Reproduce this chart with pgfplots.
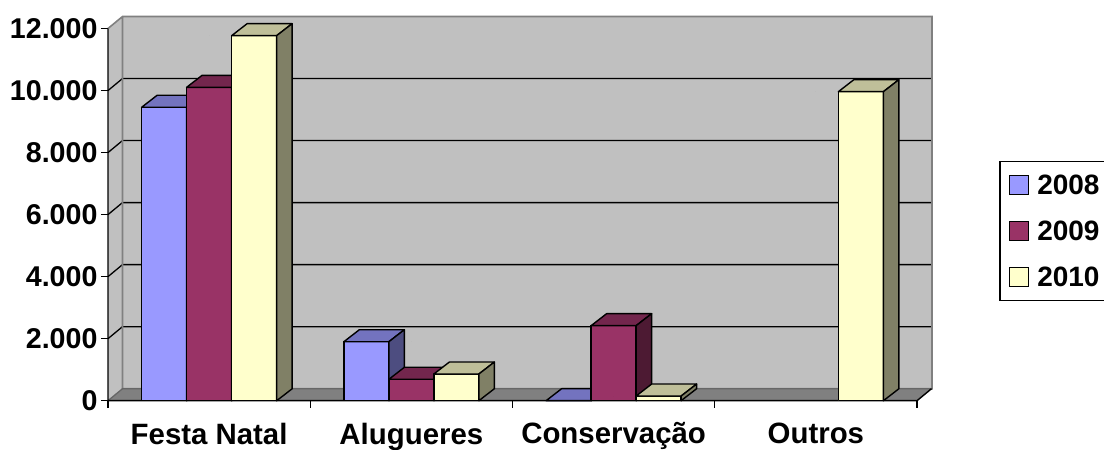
\documentclass[border=0pt]{standalone}
\usepackage{fontspec}
\setmainfont{Liberation Sans}
\usepackage{pgfplots}
\usepackage{pgfplotstable}
\pgfplotsset{compat=1.18}

\definecolor{c08}{HTML}{9999FF}
\definecolor{c08top}{HTML}{7373BF}
\definecolor{c08side}{HTML}{4D4D80}
\definecolor{c09}{HTML}{993366}
\definecolor{c09top}{HTML}{73264D}
\definecolor{c09side}{HTML}{4D1A33}
\definecolor{c10}{HTML}{FFFFCC}
\definecolor{c10top}{HTML}{BFBF99}
\definecolor{c10side}{HTML}{808066}
\definecolor{wall}{HTML}{C0C0C0}
\definecolor{floorgrey}{HTML}{808080}

\pgfplotstableread{
x   a     b     c
0.5 9460  10104 11769
1.5 1902  690   860
2.5 0     2419  150
3.5 nan   nan   9963
}\costs

% whole bar (front, top, side) hung on the data point of the series, marks
% come after the ybar paths so the front has to be repeated here to keep the order
% #1 shift, #2 front, #3 top colour, #4 side colour, #5 column
\newcommand{\barfaces}[5]{%
  \addplot[forget plot, scatter, only marks, mark=*, mark size=0pt, draw=none,
    visualization depends on={y \as \rawy},
    scatter/@pre marker code/.code={%
      \pgfmathsetlengthmacro{\hh}{\rawy*0.031015}%
      \draw[black, line width=1.4pt, line join=round, fill=#2]
        (#1-22.5pt,0) rectangle ++(45pt,-\hh);
      \draw[black, line width=1.4pt, line join=round, fill=#3]
        (#1-22.5pt,0) -- ++(15.5pt,12pt) -- ++(45pt,0) -- ++(-15.5pt,-12pt) -- cycle;
      \draw[black, line width=1.4pt, line join=round, fill=#4]
        (#1+22.5pt,0) -- ++(15.5pt,12pt) -- ++(0,-\hh) -- ++(-15.5pt,-12pt) -- cycle;
      \begin{scope}
    },
    scatter/@post marker code/.code={\end{scope}}
  ] table[x=x, y=#5] {\costs};
}

\begin{document}
\begin{tikzpicture}[x=1pt,y=1pt]
\useasboundingbox (0,0) rectangle (1104,450);
\begin{axis}[
    at={(108pt,49.3pt)}, anchor=south west,
    scale only axis, width=824pt, height=384pt,
    xmin=0, xmax=4.0742, ymin=0, ymax=12381,
    clip=false,
    axis lines=left,
    axis line style={-, draw=none},
    tick align=outside,
    major tick length=7pt,
    tick style={black, line width=1.3pt},
    xtick={0,1,2,3,4},
    xticklabels={Festa Natal,Alugueres,Conservação,Outros},
    x tick label as interval,
    ytick={0,2000,4000,6000,8000,10000,12000},
    scaled y ticks=false,
    /pgf/number format/assume math mode=true,
    /pgf/number format/1000 sep={.},
    x tick label style={font=\fontsize{29.4}{29.4}\selectfont\bfseries, yshift=-11.5pt},
    y tick label style={font=\fontsize{28.6}{28.6}\selectfont\bfseries},
    legend style={at={(1.0817,0.6242)}, anchor=north west, draw=black, line width=1.3pt,
      font=\fontsize{28}{28}\selectfont\bfseries, row sep=21pt, column sep=6pt,
      inner xsep=9pt, inner ysep=11pt},
    legend cell align=left,
    legend image code/.code={\draw[#1, line width=1.3pt] (0pt,-9.5pt) rectangle (19pt,9.5pt);},
]
% walls and floor
\fill[wall] (axis cs:0,0) -- ++(14.5pt,12pt) -- ++(0,372.2pt) -- ++(-14.5pt,-12pt) -- cycle;
\fill[wall] (axis cs:0,0) ++(14.5pt,12pt) rectangle ++(809.5pt,372.2pt);
\fill[floorgrey] (axis cs:0,0) -- ++(14.5pt,12pt) -- ++(809.5pt,0) -- ++(-14.5pt,-12pt) -- cycle;
\pgfplotsinvokeforeach{2000,4000,6000,8000,10000}{
  \draw[black, line width=1.3pt] (axis cs:0,#1) -- ++(14.5pt,12pt) -- ++(809.5pt,0);
}
\draw[floorgrey, line width=1.6pt] (axis cs:0,12000) -- ++(14.5pt,12pt) -- ++(809.5pt,0) -- ++(0,-372.2pt) -- ++(-809.5pt,0) -- ++(0,372.2pt);
\draw[black!60, line width=1.3pt] (axis cs:0,0) -- ++(14.5pt,12pt) -- ++(809.5pt,0);
\draw[black, line width=1.4pt] (axis cs:0,12000) -- (axis cs:0,0) -- (axis cs:4,0) -- ++(14.5pt,12pt);
% bars
\addplot[ybar, bar width=45pt, bar shift=-45pt, fill=c08, draw=black, line width=1.4pt] table[x=x, y=a] {\costs};
\addplot[ybar, bar width=45pt, bar shift=0pt, fill=c09, draw=black, line width=1.4pt] table[x=x, y=b] {\costs};
\addplot[ybar, bar width=45pt, bar shift=45pt, fill=c10, draw=black, line width=1.4pt] table[x=x, y=c] {\costs};
\barfaces{-45pt}{c08}{c08top}{c08side}{a}
\barfaces{0pt}{c09}{c09top}{c09side}{b}
\barfaces{45pt}{c10}{c10top}{c10side}{c}
\legend{2008\hspace{8pt},2009\hspace{8pt},2010\hspace{8pt}}
\end{axis}
\end{tikzpicture}
\end{document}
